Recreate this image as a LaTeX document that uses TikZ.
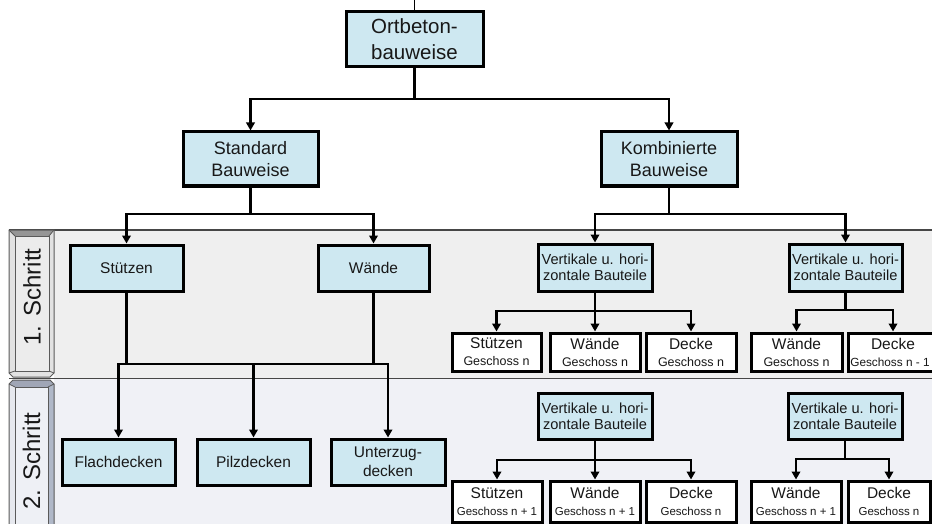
\documentclass[tikz,border=0pt]{standalone}
\usepackage{fontspec}
\setmainfont{Liberation Sans}
\usetikzlibrary{arrows.meta}

\definecolor{ink}{RGB}{24,24,24}
\definecolor{boxblue}{RGB}{206,232,241}
\definecolor{panelA}{RGB}{239,239,239}
\definecolor{panelB}{RGB}{240,241,246}
\definecolor{panelline}{RGB}{70,70,70}
\definecolor{tabface}{RGB}{226,226,226}
\definecolor{tabtop}{RGB}{150,150,150}
\definecolor{tabinner}{RGB}{236,236,236}
\definecolor{tabedge}{RGB}{90,90,90}
\definecolor{tabBface}{RGB}{230,232,238}
\definecolor{tabBtop}{RGB}{160,166,182}
\definecolor{tabBside}{RGB}{176,184,200}
\definecolor{tabBinner}{RGB}{238,240,245}

\newcommand{\fOrt}{\fontsize{20.5}{26}\selectfont}
\newcommand{\fMid}{\fontsize{18}{22.5}\selectfont}
\newcommand{\fNorm}{\fontsize{15.5}{18.7}\selectfont}
\newcommand{\fVert}{\fontsize{14.6}{16.3}\selectfont}
\newcommand{\fTab}{\fontsize{24}{28}\selectfont}
\newcommand{\fMain}{\fontsize{15.5}{17}\selectfont}

\begin{document}
\begin{tikzpicture}[x=1pt,y=-1pt,
  every node/.style={text=ink},
  bluebox/.style={draw=black,line width=3pt,fill=boxblue,inner sep=0pt,align=center},
  whitebox/.style={draw=black,line width=3pt,fill=white,inner sep=0pt,align=center,
    font=\fontsize{12.5}{17}\selectfont},
  whiteboxB/.style={whitebox,font=\fontsize{11.5}{17.5}\selectfont},
  sz/.style 2 args={minimum width=#1pt,minimum height=#2pt},
  link/.style={line width=2.7pt},
  arr/.style={line width=2.7pt,-{Triangle[length=8pt,width=8.5pt]}},
]
\useasboundingbox (0,0) rectangle (932,524);
\clip (0,0) rectangle (932,524);

% ---- step panels ----
\fill[panelA] (54,230) rectangle (932,378);
\fill[panelB] (54,378) rectangle (932,530);
\draw[panelline,line width=1.4pt] (9,230) -- (932,230);
\draw[panelline,line width=1.4pt] (9,378.5) -- (932,378.5);

% tab of step 1
\fill[tabface] (9,230) -- (54,230) -- (54,373) -- (50,377) -- (13,377) -- (9,373) -- cycle;
\fill[tabtop] (9,230) -- (54,230) -- (49,236) -- (15,236) -- cycle;
\fill[tabinner] (15,236) rectangle (49,371);
\draw[tabedge,line width=0.8pt] (15,236) rectangle (49,371);
\draw[tabedge,line width=0.8pt] (9,230) -- (15,236) (54,230) -- (49,236)
  (9,373) -- (15,371) (54,373) -- (49,371);
\draw[tabedge,line width=1pt] (9,230) -- (54,230) -- (54,373) -- (50,377) -- (13,377) -- (9,373) -- cycle;

% tab of step 2
\fill[tabBface] (13,380) -- (50,380) -- (54,384) -- (54,530) -- (9,530) -- (9,384) -- cycle;
\fill[tabBtop] (13,380) -- (50,380) -- (54,384) -- (48,387) -- (15,387) -- (9,384) -- cycle;
\fill[tabBside] (54,384) -- (54,530) -- (48,530) -- (48,387) -- cycle;
\fill[tabBinner] (15,387) rectangle (48,530);
\draw[tabedge,line width=0.8pt] (15,530) -- (15,387) -- (48,387) -- (48,530);
\draw[tabedge,line width=0.8pt] (9,384) -- (15,387) (54,384) -- (48,387);
\draw[tabedge,line width=1pt] (9,530) -- (9,384) -- (13,380) -- (50,380) -- (54,384) -- (54,530);

\node[rotate=90,font=\fTab] (tab1) at (32,297) {1. Schritt};
\node[rotate=90,font=\fTab] (tab2) at (31.5,461) {2. Schritt};

% ---- upper levels ----
\node[bluebox,sz={137}{55},font=\fOrt] (ort) at (414.5,39.5) {Ortbeton-\\bauweise};
\node[bluebox,sz={135}{54},font=\fMid] (std) at (250.5,159) {Standard\\Bauweise};
\node[bluebox,sz={136}{54},font=\fMid] (komb) at (669,159) {Kombinierte\\Bauweise};

% ---- standard construction ----
\node[bluebox,sz={113}{46},font=\fNorm] (st1) at (126.5,268) {Stützen};
\node[bluebox,sz={111}{46},font=\fNorm] (wa1) at (373.5,268) {Wände};
\node[bluebox,sz={113}{46},font=\fNorm] (flach) at (118.5,462) {Flachdecken};
\node[bluebox,sz={113}{46},font=\fNorm] (pilz) at (253.5,462) {Pilzdecken};
\node[bluebox,sz={114}{46},font=\fNorm] (unter) at (388,462) {Unterzug-\\decken};

% ---- combined construction, step 1 ----
\node[bluebox,sz={114}{47},font=\fVert] (v1a) at (595,267.5) {Vertikale u. hori-\\zontale Bauteile};
\node[bluebox,sz={113}{47},font=\fVert] (v1b) at (845.5,267.5) {Vertikale u. hori-\\zontale Bauteile};
\node[whitebox,sz={89}{38}] (c1s) at (496.5,352) {{\fMain Stützen}\\Geschoss n};
\node[whitebox,sz={90}{38}] (c1w) at (595,352) {{\fMain Wände}\\Geschoss n};
\node[whitebox,sz={90}{38}] (c1d) at (691,352) {{\fMain Decke}\\Geschoss n};
\node[whitebox,sz={91}{38}] (c1w2) at (796.5,352) {{\fMain Wände}\\Geschoss n};
\node[whitebox,sz={90}{38}] (c1d2) at (893,352)
  {{\fMain Decke}\\\hspace*{-6pt}{\fontsize{11.8}{17}\selectfont Geschoss n - 1}};

% ---- combined construction, step 2 ----
\node[bluebox,sz={114}{46},font=\fVert] (v2a) at (595,416) {Vertikale u. hori-\\zontale Bauteile};
\node[bluebox,sz={114}{46},font=\fVert] (v2b) at (845,416.5) {Vertikale u. hori-\\zontale Bauteile};
\node[whiteboxB,sz={90}{41}] (c2s) at (497,501.5) {{\fMain Stützen}\\Geschoss n + 1};
\node[whiteboxB,sz={90}{41}] (c2w) at (595,501.5) {{\fMain Wände}\\Geschoss n + 1};
\node[whiteboxB,sz={90}{41}] (c2d) at (691,501.5) {{\fMain Decke}\\Geschoss n};
\node[whiteboxB,sz={90}{41}] (c2w2) at (796,501.5) {{\fMain Wände}\\Geschoss n + 1};
\node[whiteboxB,sz={82}{41}] (c2d2) at (889,501.5) {{\fMain Decke}\\Geschoss n};

% ---- connectors ----
\coordinate (in0) at (414.5,0);
\draw[black,line width=0.8pt] (in0) -- (ort.north);

\coordinate (b0) at (414.5,99);
\draw[link] (ort.south) -- (b0);
\draw[arr] (b0) -| (std.north);
\draw[arr] (b0) -| (komb.north);

\coordinate (b1) at (250.5,214);
\draw[link] (std.south) -- (b1);
\draw[arr] (b1) -| (st1.north);
\draw[arr] (b1) -| (wa1.north);

\coordinate (b2) at (253.5,364);
\draw[link] (st1.south) -- (st1.south |- b2);
\draw[link] (wa1.south) -- (wa1.south |- b2);
\draw[arr] (b2) -| (flach.north);
\draw[arr] (b2) -| (unter.north);
\draw[arr] (b2) -- (pilz.north);

\coordinate (b3) at (669,214);
\draw[link] (komb.south) -- (b3);
\draw[arr] (b3) -| (v1a.north);
\draw[arr] (b3) -| (v1b.north);

\coordinate (b4) at (595,311);
\draw[link] (v1a.south) -- (b4);
\draw[arr] (b4) -| (c1s.north);
\draw[arr] (b4) -| (c1d.north);
\draw[arr] (b4) -- (c1w.north);

\coordinate (b5) at (845.5,310);
\draw[link] (v1b.south) -- (b5);
\draw[arr] (b5) -| (c1w2.north);
\draw[arr] (b5) -| (c1d2.north);

\coordinate (b6) at (595,460);
\draw[link] (v2a.south) -- (b6);
\draw[arr] (b6) -| (c2s.north);
\draw[arr] (b6) -| (c2d.north);
\draw[arr] (b6) -- (c2w.north);

\coordinate (b7) at (845,459);
\draw[link] (v2b.south) -- (b7);
\draw[arr] (b7) -| (c2w2.north);
\draw[arr] (b7) -| (c2d2.north);
\end{tikzpicture}
\end{document}
